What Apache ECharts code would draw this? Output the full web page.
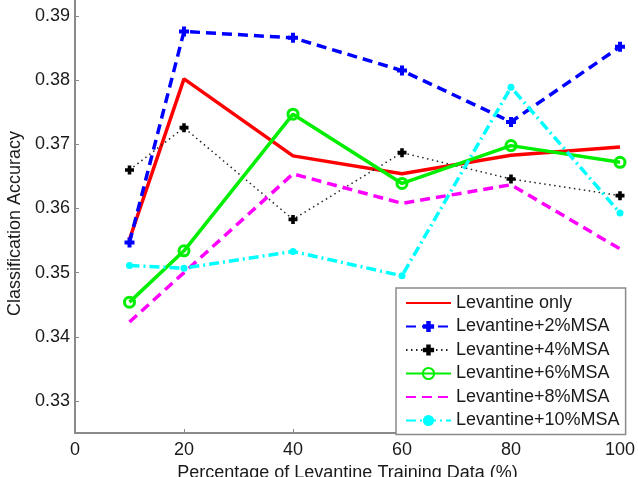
<!DOCTYPE html>
<html>
<head>
<meta charset="utf-8">
<script src="https://cdn.jsdelivr.net/npm/echarts@6/dist/echarts.min.js"></script>
<style>
html,body{margin:0;padding:0;background:#fff;}
#chart{width:638px;height:477px;}
</style>
</head>
<body>
<div id="chart"></div>
<script>
const xValues = [10, 20, 40, 60, 80, 100];
const levOnly  = [0.3552, 0.3802, 0.3682, 0.3654, 0.3683, 0.3696];
const lev2msa  = [0.3547, 0.3876, 0.3866, 0.3815, 0.3735, 0.3852];
const lev4msa  = [0.3660, 0.3726, 0.3583, 0.3687, 0.3646, 0.3620];
const lev6msa  = [0.3454, 0.3534, 0.3747, 0.3639, 0.3698, 0.3672];
const lev8msa  = [0.3423, 0.3500, 0.3654, 0.3608, 0.3637, 0.3537];
const lev10msa = [0.3511, 0.3507, 0.3533, 0.3495, 0.3789, 0.3593];
const seriesNames = ['Levantine only', 'Levantine+2%MSA', 'Levantine+4%MSA', 'Levantine+6%MSA', 'Levantine+8%MSA', 'Levantine+10%MSA'];
const yTicks = [0.33, 0.34, 0.35, 0.36, 0.37, 0.38, 0.39];
const xTitle = 'Percentage of Levantine Training Data (%)';
const yTitle = 'Classification Accuracy';

const FONT = '"Liberation Sans", Arial, Helvetica, sans-serif';
const TXT = '#1a1a1a';
const AX = '#8a8a8a';
const plusPath = 'path://M3,0H7V3H10V7H7V10H3V7H0V3H3Z';
const hiddenIcon = {color: 'rgba(0,0,0,0)', borderWidth: 0, borderColor: 'rgba(0,0,0,0)'};

function pts(arr){ return xValues.map((x,i)=>[x, arr[i]]); }

const chart = echarts.init(document.getElementById('chart'), null, {renderer:'canvas'});
chart.setOption({
  animation: false,
  backgroundColor: '#fff',
  textStyle: {fontFamily: FONT},
  grid: {left: 75, right: 18, top: 0, bottom: 44, containLabel: false, outerBoundsMode: 'none'},
  xAxis: {
    type: 'value', min: 0, max: 100, interval: 20,
    name: xTitle, nameLocation: 'middle', nameGap: 28,
    nameTextStyle: {fontSize: 18, color: TXT, fontFamily: FONT},
    axisLine: {show: true, lineStyle: {color: AX, width: 2}},
    axisTick: {show: true, inside: true, length: 4, lineStyle: {color: AX, width: 1}},
    axisLabel: {fontSize: 18, color: TXT, margin: 8, fontFamily: FONT},
    splitLine: {show: false}
  },
  yAxis: {
    type: 'value', min: 0.325, max: 0.3925,
    name: yTitle, nameLocation: 'middle', nameGap: 45,
    nameTextStyle: {fontSize: 18, color: TXT, fontFamily: FONT, padding: [0, 14, 0, 0]},
    axisLine: {show: true, lineStyle: {color: AX, width: 2}},
    axisTick: {show: true, inside: true, length: 4, customValues: yTicks, lineStyle: {color: AX, width: 1}},
    axisLabel: {fontSize: 18, color: TXT, margin: 5, fontFamily: FONT, customValues: yTicks,
      formatter: v => Number(v).toFixed(2)},
    splitLine: {show: false}
  },
  legend: {
    orient: 'vertical', left: 396, top: 288,
    padding: [5, 6, 4, 9],
    backgroundColor: '#fff', borderColor: AX, borderWidth: 1.5, borderRadius: 0,
    itemWidth: 45, itemHeight: 14, itemGap: 3.5,
    textStyle: {fontSize: 18, color: TXT, fontFamily: FONT, lineHeight: 20},
    data: [
      {name: seriesNames[0], itemStyle: hiddenIcon},
      {name: seriesNames[1]},
      {name: seriesNames[2]},
      {name: seriesNames[3]},
      {name: seriesNames[4], itemStyle: hiddenIcon},
      {name: seriesNames[5]}
    ]
  },
  series: [
    {name: seriesNames[0], type: 'line', data: pts(levOnly), symbol: 'none',
     lineStyle: {color: '#ff0000', width: 3.5}, itemStyle: {color: '#ff0000'}},
    {name: seriesNames[1], type: 'line', data: pts(lev2msa), symbol: plusPath, symbolSize: 10,
     lineStyle: {color: '#0000ff', width: 3.5, type: [10, 6]}, itemStyle: {color: '#0000ff'}},
    {name: seriesNames[2], type: 'line', data: pts(lev4msa), symbol: plusPath, symbolSize: 9,
     lineStyle: {color: '#222222', width: 1.5, type: [1.5, 3.5]}, itemStyle: {color: '#000000'}},
    {name: seriesNames[3], type: 'line', data: pts(lev6msa), symbol: 'circle', symbolSize: 10,
     lineStyle: {color: '#00ee00', width: 3.5}, itemStyle: {color: 'rgba(0,0,0,0)', borderColor: '#00ee00', borderWidth: 3}},
    {name: seriesNames[4], type: 'line', data: pts(lev8msa), symbol: 'none',
     lineStyle: {color: '#ff00ff', width: 3.5, type: [10, 6]}, itemStyle: {color: '#ff00ff'}},
    {name: seriesNames[5], type: 'line', data: pts(lev10msa), symbol: 'circle', symbolSize: 7,
     lineStyle: {color: '#00ffff', width: 3.5, type: [10, 4, 2, 4]}, itemStyle: {color: '#00ffff'}}
  ]
});
</script>
</body>
</html>
